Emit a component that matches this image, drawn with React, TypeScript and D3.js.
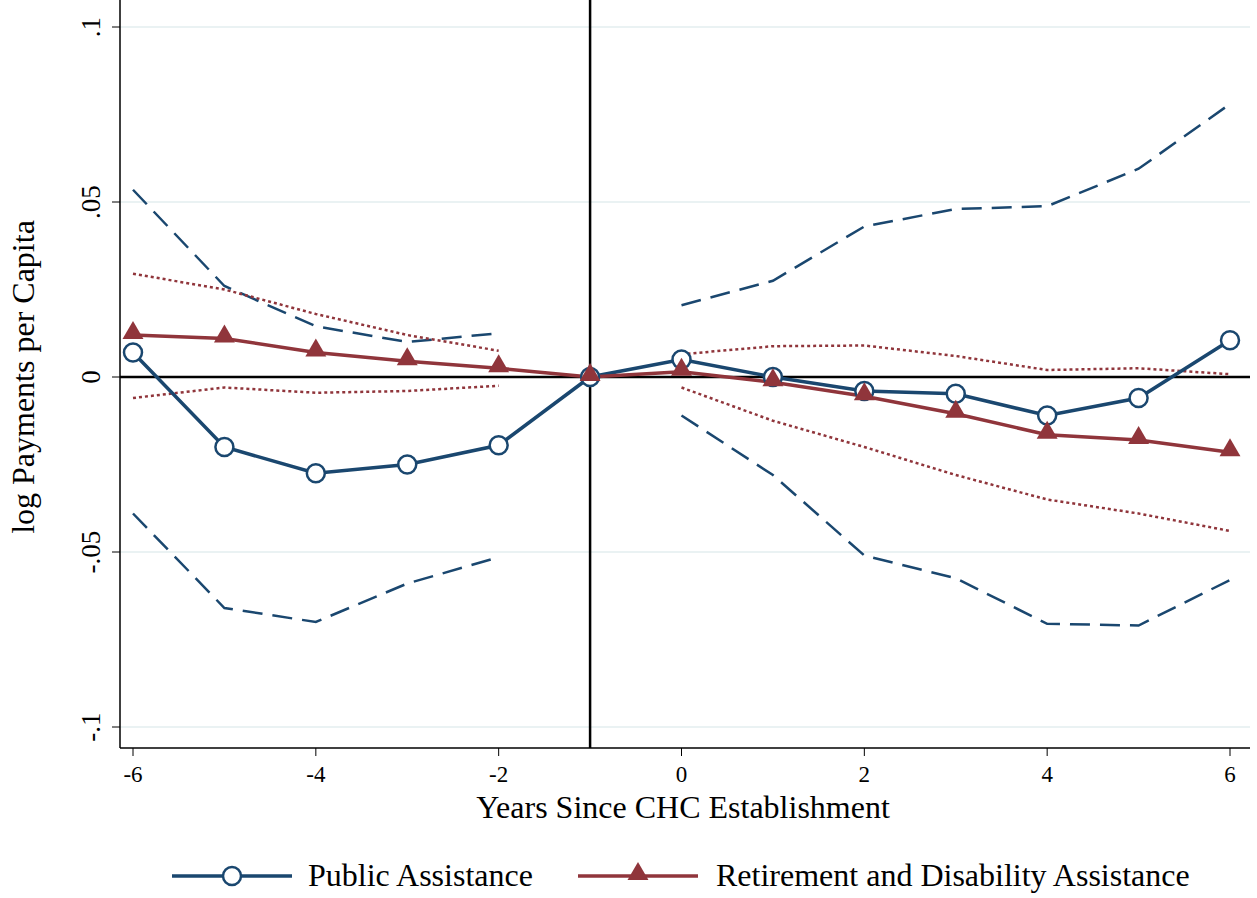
import React from "react";
import * as d3 from "d3";

const years = [-6, -5, -4, -3, -2, -1, 0, 1, 2, 3, 4, 5, 6];
const paEst = [0.007, -0.02, -0.0275, -0.025, -0.0195, 0, 0.005, 0, -0.004, -0.0048, -0.011, -0.006, 0.0105];
const paHi = [0.0535, 0.026, 0.0145, 0.01, 0.0125, null, 0.0205, 0.0275, 0.043, 0.048, 0.0488, 0.0595, 0.078];
const paLo = [-0.039, -0.066, -0.07, -0.059, -0.0515, null, -0.011, -0.028, -0.051, -0.0575, -0.0705, -0.071, -0.058];
const rdEst = [0.012, 0.011, 0.007, 0.0045, 0.0025, 0, 0.0015, -0.0015, -0.0055, -0.0105, -0.0165, -0.018, -0.0215];
const rdHi = [0.0295, 0.025, 0.018, 0.012, 0.0075, null, 0.0065, 0.0088, 0.009, 0.006, 0.002, 0.0025, 0.0008];
const rdLo = [-0.006, -0.003, -0.0045, -0.004, -0.0025, null, -0.003, -0.0125, -0.02, -0.028, -0.035, -0.039, -0.044];
const xTicks = [-6, -4, -2, 0, 2, 4, 6];
const yTicks = [-0.1, -0.05, 0, 0.05, 0.1];
const yLabels = ["-.1", "-.05", "0", ".05", ".1"];

const blue = "#1a476f";
const red = "#90353b";
const font = "'Liberation Serif', 'Times New Roman', serif";

export default function App() {
  const x = d3.scaleLinear().domain([-6, 6]).range([133, 1230]);
  const y = d3.scaleLinear().domain([-0.1, 0.1]).range([727, 27]);
  const line = d3
    .line<[number, number | null]>()
    .defined((d) => d[1] !== null)
    .x((d) => x(d[0]))
    .y((d) => y(d[1] as number));
  const pts = (v: (number | null)[]) => years.map((yr, i) => [yr, v[i]] as [number, number | null]);
  const tri = d3.symbol(d3.symbolTriangle, 190)()!;

  return (
    <svg width={1257} height={898} style={{ position: "absolute", left: 0, top: 0, background: "#fff" }} fontFamily={font}>
      {yTicks.filter((t) => t !== 0).map((t) => (
        <line key={t} x1={120} x2={1250} y1={y(t)} y2={y(t)} stroke="#eaf2f3" strokeWidth={2} />
      ))}
      <line x1={120} x2={120} y1={0} y2={748} stroke="#000" strokeWidth={1.5} />
      <line x1={120} x2={1250} y1={748} y2={748} stroke="#000" strokeWidth={1.5} />
      {yTicks.map((t, i) => (
        <g key={t}>
          <line x1={112} x2={120} y1={y(t)} y2={y(t)} stroke="#000" />
          <text transform={`translate(100,${y(t)}) rotate(-90)`} textAnchor="middle" fontSize={27}>{yLabels[i]}</text>
        </g>
      ))}
      {xTicks.map((t) => (
        <g key={t}>
          <line x1={x(t)} x2={x(t)} y1={748} y2={756} stroke="#000" />
          <text x={x(t)} y={782} textAnchor="middle" fontSize={23}>{t}</text>
        </g>
      ))}
      <text x={683} y={818} textAnchor="middle" fontSize={32}>Years Since CHC Establishment</text>
      <text transform="translate(34,377) rotate(-90)" textAnchor="middle" fontSize={32}>log Payments per Capita</text>
      <line x1={x(-1)} x2={x(-1)} y1={0} y2={748} stroke="#000" strokeWidth={2.5} />
      <line x1={120} x2={1250} y1={y(0)} y2={y(0)} stroke="#000" strokeWidth={2.5} />
      <path d={line(pts(paHi))!} fill="none" stroke={blue} strokeWidth={2.5} strokeDasharray="20,10" />
      <path d={line(pts(paLo))!} fill="none" stroke={blue} strokeWidth={2.5} strokeDasharray="20,10" />
      <path d={line(pts(rdHi))!} fill="none" stroke={red} strokeWidth={2.5} strokeDasharray="3,3" />
      <path d={line(pts(rdLo))!} fill="none" stroke={red} strokeWidth={2.5} strokeDasharray="3,3" />
      <path d={line(pts(paEst))!} fill="none" stroke={blue} strokeWidth={3.5} />
      <path d={line(pts(rdEst))!} fill="none" stroke={red} strokeWidth={3.5} />
      {years.map((yr, i) => (
        <circle key={"p" + yr} cx={x(yr)} cy={y(paEst[i])} r={9} fill="#fff" stroke={blue} strokeWidth={2.5} />
      ))}
      {years.map((yr, i) => (
        <path key={"r" + yr} d={tri} transform={`translate(${x(yr)},${y(rdEst[i]) - 2})`} fill={red} />
      ))}
      <line x1={172} x2={292} y1={876} y2={876} stroke={blue} strokeWidth={3.5} />
      <circle cx={232} cy={876} r={9} fill="#fff" stroke={blue} strokeWidth={2.5} />
      <text x={308} y={886} fontSize={32}>Public Assistance</text>
      <line x1={578} x2={698} y1={876} y2={876} stroke={red} strokeWidth={3.5} />
      <path d={tri} transform="translate(638,874)" fill={red} />
      <text x={716} y={886} fontSize={32}>Retirement and Disability Assistance</text>
    </svg>
  );
}
